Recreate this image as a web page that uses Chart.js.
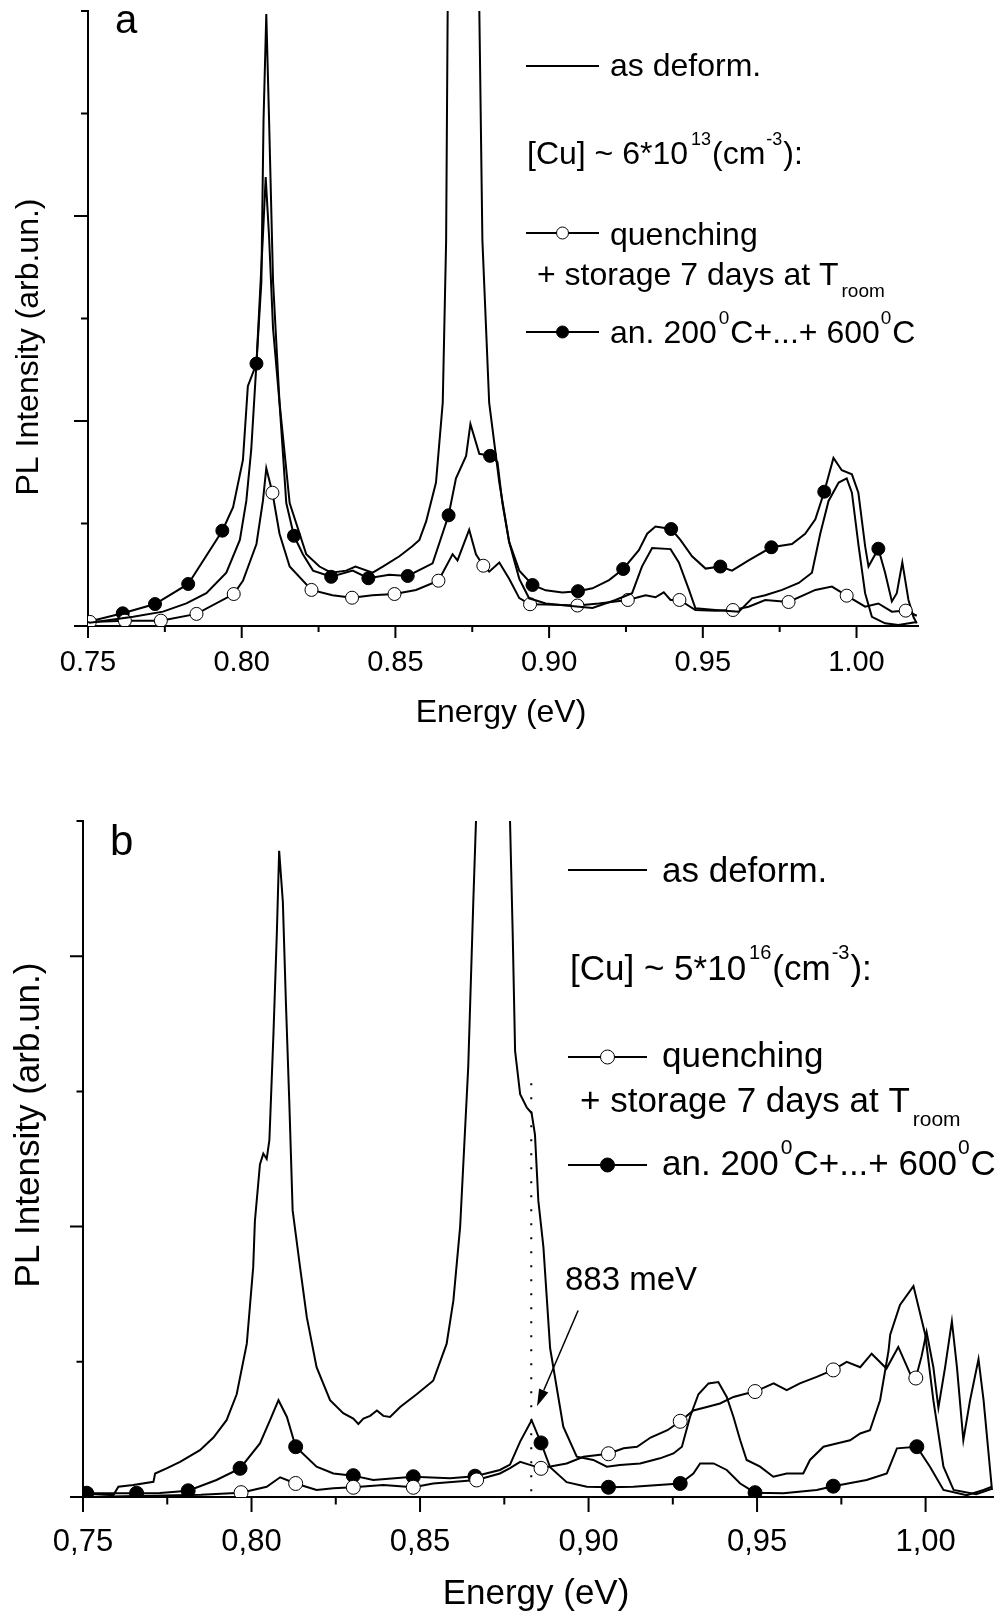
<!DOCTYPE html>
<html lang="en">
<head>
  <meta charset="UTF-8" />
  <title>PL spectra | Cu in Si</title>
  <script src="https://cdn.jsdelivr.net/npm/chart.js"></script>
  <style>
    body { margin: 0; background: #fff; }
    #wrap { position: relative; width: 1004px; height: 1615px; }
    canvas { position: absolute; left: 0; }
  </style>
</head>
<body>
  <div id="wrap">
    <canvas id="chartA" width="1004" height="760" style="top:0"></canvas>
    <canvas id="chartB" width="1004" height="855" style="top:760px"></canvas>
  </div>

  <script>
    const FONT = '"Liberation Sans", Arial, Helvetica, sans-serif';

    // axis ticks (energy in eV, intensity in arb. units)
    const xMajor = [0.75, 0.80, 0.85, 0.90, 0.95, 1.00];
    const xMinor = [0.775, 0.825, 0.875, 0.925, 0.975];
    const yMajor = [0, 1, 2];
    const aYMinor = [0.5, 1.5, 2.5, 3];
    const bYMinor = [0.5, 1.5, 2.5];

    // ---- panel a : [Cu] ~ 6*10^13 ----
    const aDeform = [[0.7500,0.02],[0.7506,0.016],[0.7647,0.045],[0.7744,0.07],[0.7820,0.11],[0.7885,0.16],[0.7950,0.26],[0.7994,0.42],[0.8015,0.61],[0.8031,0.86],[0.8064,1.68],[0.8071,2.47],[0.8080,2.985],[0.8089,2.47],[0.8102,1.68],[0.8123,1.09],[0.8156,0.60],[0.8210,0.35],[0.8253,0.29],[0.8291,0.26],[0.8340,0.27],[0.8370,0.29],[0.8426,0.26],[0.8459,0.29],[0.8513,0.34],[0.8556,0.39],[0.8578,0.42],[0.8600,0.51],[0.8632,0.70],[0.8654,1.09],[0.8665,1.88],[0.8670,3.0],[0.8690,5.0],[0.8721,6.0],[0.8750,5.0],[0.8773,3.0],[0.8783,1.88],[0.8805,1.09],[0.8838,0.70],[0.8870,0.41],[0.8903,0.23],[0.8935,0.135],[0.8989,0.11],[0.9054,0.10],[0.9141,0.088],[0.9216,0.127],[0.9270,0.16],[0.9302,0.29],[0.9335,0.38],[0.9395,0.375],[0.9422,0.31],[0.9455,0.176],[0.9476,0.086],[0.9541,0.078],[0.9617,0.07],[0.9660,0.135],[0.9703,0.15],[0.9758,0.176],[0.9812,0.21],[0.9855,0.26],[0.9882,0.45],[0.9909,0.61],[0.9942,0.70],[0.9968,0.72],[0.9985,0.65],[1.0006,0.40],[1.0028,0.16],[1.0050,0.045],[1.0093,0.013],[1.0136,0.005],[1.0196,0.02]];

    const aQuench = [[0.7500,0.015],[0.7506,0.02],[0.7620,0.026],[0.7737,0.026],[0.7853,0.059],[0.7974,0.156],[0.8004,0.22],[0.8048,0.40],[0.8069,0.61],[0.8080,0.77],[0.8100,0.65],[0.8123,0.45],[0.8156,0.29],[0.8227,0.176],[0.8295,0.15],[0.8359,0.138],[0.8425,0.15],[0.8497,0.156],[0.8567,0.176],[0.8640,0.221],[0.8686,0.35],[0.8702,0.32],[0.8740,0.47],[0.8762,0.35],[0.8786,0.294],[0.8805,0.265],[0.8838,0.31],[0.8870,0.23],[0.8903,0.136],[0.8938,0.106],[0.8989,0.105],[0.9092,0.10],[0.9162,0.11],[0.9256,0.127],[0.9314,0.15],[0.9346,0.14],[0.9373,0.164],[0.9395,0.127],[0.9424,0.127],[0.9476,0.078],[0.9541,0.075],[0.9598,0.078],[0.9649,0.094],[0.9703,0.127],[0.9779,0.117],[0.9866,0.176],[0.9920,0.192],[0.9968,0.148],[1.0028,0.094],[1.0071,0.11],[1.0115,0.07],[1.0160,0.075],[1.0196,0.05]];
    const aQuenchMarks = [0.7506,0.7620,0.7737,0.7853,0.7974,0.8100,0.8227,0.8359,0.8497,0.8640,0.8786,0.8938,0.9092,0.9256,0.9424,0.9598,0.9779,0.9968,1.0160];

    const aAnneal = [[0.7500,0.02],[0.7613,0.062],[0.7718,0.107],[0.7826,0.205],[0.7937,0.465],[0.7972,0.58],[0.8004,0.81],[0.8020,1.17],[0.8048,1.28],[0.8069,1.9],[0.8078,2.19],[0.8089,1.9],[0.8102,1.45],[0.8123,1.09],[0.8145,0.60],[0.8170,0.44],[0.8199,0.35],[0.8232,0.27],[0.8291,0.24],[0.8361,0.27],[0.8412,0.233],[0.8480,0.25],[0.8540,0.244],[0.8621,0.306],[0.8673,0.54],[0.8697,0.72],[0.8730,0.83],[0.8744,0.985],[0.8773,0.84],[0.8808,0.83],[0.8832,0.80],[0.8848,0.60],[0.8870,0.41],[0.8903,0.27],[0.8946,0.20],[0.8989,0.174],[0.9043,0.164],[0.9094,0.17],[0.9141,0.184],[0.9195,0.224],[0.9241,0.278],[0.9292,0.37],[0.9319,0.45],[0.9346,0.485],[0.9397,0.473],[0.9427,0.42],[0.9465,0.34],[0.9509,0.28],[0.9557,0.29],[0.9595,0.27],[0.9649,0.32],[0.9723,0.384],[0.9790,0.40],[0.9833,0.45],[0.9866,0.52],[0.9895,0.655],[0.9925,0.82],[0.9952,0.76],[0.9985,0.74],[1.0006,0.65],[1.0028,0.39],[1.0039,0.29],[1.0071,0.377],[1.0093,0.26],[1.0115,0.12],[1.0131,0.16],[1.0149,0.31],[1.0169,0.127],[1.0185,0.045],[1.0196,0.013]];
    const aAnnealMarks = [0.7613,0.7718,0.7826,0.7937,0.8048,0.8170,0.8291,0.8412,0.8540,0.8673,0.8808,0.8946,0.9094,0.9241,0.9397,0.9557,0.9723,0.9895,1.0071];

    // ---- panel b : [Cu] ~ 5*10^16 ----
    const bDeform = [[0.7501,0.014],[0.7590,0.007],[0.7605,0.038],[0.7649,0.044],[0.7709,0.056],[0.7714,0.087],[0.7748,0.106],[0.7788,0.13],[0.7847,0.173],[0.7887,0.22],[0.7926,0.284],[0.7956,0.38],[0.7986,0.567],[0.8005,0.85],[0.8010,1.02],[0.8025,1.23],[0.8035,1.27],[0.8045,1.25],[0.8053,1.32],[0.8065,1.71],[0.8075,2.08],[0.8082,2.39],[0.8093,2.20],[0.8102,1.83],[0.8112,1.465],[0.8122,1.06],[0.8144,0.85],[0.8164,0.665],[0.8193,0.48],[0.8233,0.358],[0.8272,0.31],[0.8302,0.29],[0.8317,0.27],[0.8332,0.29],[0.8352,0.30],[0.8372,0.32],[0.8391,0.30],[0.8411,0.296],[0.8441,0.333],[0.8490,0.38],[0.8539,0.43],[0.8579,0.567],[0.8599,0.727],[0.8619,1.0],[0.8643,1.59],[0.8658,2.20],[0.8666,2.5],[0.8690,3.6],[0.8717,4.2],[0.8745,3.6],[0.8767,2.5],[0.8775,2.08],[0.8782,1.65],[0.8797,1.49],[0.8817,1.44],[0.8831,1.42],[0.8841,1.34],[0.8851,1.096],[0.8866,0.925],[0.8886,0.55],[0.8925,0.26],[0.8965,0.149],[0.9014,0.137],[0.9054,0.112],[0.9093,0.118],[0.9153,0.124],[0.9212,0.143],[0.9252,0.161],[0.9277,0.186],[0.9301,0.296],[0.9326,0.38],[0.9356,0.42],[0.9385,0.425],[0.9410,0.37],[0.9430,0.296],[0.9450,0.21],[0.9469,0.137],[0.9509,0.112],[0.9548,0.075],[0.9588,0.087],[0.9637,0.087],[0.9657,0.137],[0.9697,0.186],[0.9736,0.198],[0.9776,0.21],[0.9806,0.235],[0.9835,0.247],[0.9865,0.358],[0.9890,0.54],[0.9895,0.60],[0.9924,0.71],[0.9964,0.78],[0.9999,0.60],[1.0023,0.358],[1.0053,0.112],[1.0083,0.026],[1.0150,0.01],[1.0197,0.03]];

    const bQuench = [[0.7501,0.0],[0.7700,0.005],[0.7850,0.008],[0.7969,0.016],[0.8045,0.038],[0.8085,0.073],[0.8131,0.05],[0.8193,0.026],[0.8243,0.032],[0.8302,0.036],[0.8391,0.044],[0.8480,0.036],[0.8539,0.05],[0.8668,0.063],[0.8737,0.087],[0.8767,0.107],[0.8797,0.13],[0.8859,0.106],[0.8935,0.124],[0.8985,0.149],[0.9059,0.16],[0.9104,0.18],[0.9144,0.186],[0.9184,0.22],[0.9234,0.247],[0.9272,0.28],[0.9311,0.32],[0.9351,0.333],[0.9390,0.346],[0.9430,0.37],[0.9460,0.38],[0.9494,0.39],[0.9549,0.42],[0.9588,0.395],[0.9627,0.42],[0.9677,0.444],[0.9726,0.47],[0.9766,0.50],[0.9806,0.48],[0.9840,0.53],[0.9884,0.475],[0.9919,0.555],[0.9954,0.456],[0.9971,0.44],[0.9988,0.52],[1.0003,0.61],[1.0023,0.48],[1.0038,0.33],[1.0058,0.48],[1.0078,0.65],[1.0093,0.48],[1.0112,0.21],[1.0132,0.358],[1.0157,0.51],[1.0172,0.358],[1.0197,0.026]];
    const bQuenchMarks = [0.7969,0.8131,0.8302,0.8480,0.8668,0.8859,0.9059,0.9272,0.9494,0.9726,0.9971];

    const bAnneal = [[0.7501,0.014],[0.7511,0.014],[0.7659,0.014],[0.7728,0.015],[0.7812,0.023],[0.7896,0.063],[0.7966,0.106],[0.8025,0.198],[0.8055,0.284],[0.8080,0.358],[0.8105,0.296],[0.8131,0.186],[0.8193,0.112],[0.8243,0.087],[0.8302,0.079],[0.8361,0.063],[0.8480,0.075],[0.8589,0.069],[0.8663,0.077],[0.8737,0.10],[0.8767,0.12],[0.8797,0.205],[0.8831,0.284],[0.8859,0.20],[0.8886,0.11],[0.8935,0.055],[0.8995,0.038],[0.9059,0.036],[0.9133,0.038],[0.9272,0.05],[0.9311,0.087],[0.9331,0.124],[0.9371,0.124],[0.9410,0.10],[0.9450,0.05],[0.9494,0.016],[0.9578,0.014],[0.9677,0.026],[0.9726,0.04],[0.9825,0.063],[0.9885,0.087],[0.9915,0.18],[0.9974,0.186],[1.0013,0.112],[1.0053,0.026],[1.0122,0.007],[1.0172,0.026],[1.0197,0.038]];
    const bAnnealMarks = [0.7511,0.7659,0.7812,0.7966,0.8131,0.8302,0.8480,0.8663,0.8859,0.9059,0.9272,0.9494,0.9726,0.9974];

    // 883 meV annotation (eV, intensity)
    const markLineE = 0.883;
    const markLineTop = 1.53;
    const arrowFrom = [0.8969, 0.69];
    const arrowTo = [0.8847, 0.336];
    const noteAt = [0.8930, 0.764];

    function lineSet(pairs, marks, fill, r) {
      return {
        data: pairs.map(p => ({ x: p[0], y: p[1] })),
        borderColor: '#000',
        borderWidth: 2,
        tension: 0,
        pointRadius: c => (c.raw && marks.includes(c.raw.x)) ? r : 0,
        pointHoverRadius: 0,
        pointBackgroundColor: fill,
        pointBorderColor: '#000',
        pointBorderWidth: 1
      };
    }

    // draws text pieces one after another (for super/subscripts)
    function runs(ctx, x, y, parts) {
      parts.forEach(([t, size, dy, dx]) => {
        ctx.font = size + 'px ' + FONT;
        x += dx || 0;
        ctx.fillText(t, x, y + (dy || 0));
        x += ctx.measureText(t).width;
      });
    }

    function legendItem(ctx, x0, x1, yy, fill, r) {
      ctx.lineWidth = 2;
      ctx.beginPath(); ctx.moveTo(x0, yy); ctx.lineTo(x1, yy); ctx.stroke();
      if (r) {
        ctx.beginPath();
        ctx.arc((x0 + x1) / 2, yy, r, 0, Math.PI * 2);
        ctx.fillStyle = fill; ctx.fill();
        ctx.lineWidth = 1; ctx.stroke();
        ctx.fillStyle = '#000';
      }
    }

    function decor(cfg) {
      return {
        id: 'decor',
        afterDraw(chart) {
          const { ctx, chartArea: ca, scales: { x, y } } = chart;
          ctx.save();
          ctx.strokeStyle = '#000';
          ctx.fillStyle = '#000';
          ctx.lineWidth = 2;
          ctx.beginPath();
          xMajor.forEach(v => { const p = x.getPixelForValue(v); ctx.moveTo(p, ca.bottom); ctx.lineTo(p, ca.bottom + cfg.xTick); });
          xMinor.forEach(v => { const p = x.getPixelForValue(v); ctx.moveTo(p, ca.bottom); ctx.lineTo(p, ca.bottom + cfg.xTick / 2); });
          yMajor.forEach(v => { const p = y.getPixelForValue(v); ctx.moveTo(ca.left - cfg.yTick, p); ctx.lineTo(ca.left, p); });
          cfg.yMinor.forEach(v => { const p = y.getPixelForValue(v); ctx.moveTo(ca.left - cfg.yTick / 2, p); ctx.lineTo(ca.left, p); });
          ctx.stroke();

          // axis titles
          ctx.textBaseline = 'middle';
          ctx.textAlign = 'center';
          ctx.font = cfg.titleSize + 'px ' + FONT;
          ctx.fillText('Energy (eV)', cfg.xTitle[0], cfg.xTitle[1]);
          ctx.save();
          ctx.translate(cfg.yTitle[0], cfg.yTitle[1]);
          ctx.rotate(-Math.PI / 2);
          ctx.fillText('PL Intensity (arb.un.)', 0, 0);
          ctx.restore();

          ctx.textAlign = 'left';
          ctx.textBaseline = 'alphabetic';
          cfg.extra(ctx, x, y);
          ctx.restore();
        }
      };
    }

    function makeChart(id, cfg) {
      return new Chart(document.getElementById(id), {
        type: 'line',
        data: {
          datasets: [
            lineSet(cfg.deform, [], '#000', 0),
            lineSet(cfg.quench, cfg.quenchMarks, '#fff', cfg.r),
            lineSet(cfg.anneal, cfg.annealMarks, '#000', cfg.r)
          ]
        },
        options: {
          responsive: false,
          animation: false,
          devicePixelRatio: 1,
          events: [],
          layout: { padding: cfg.pad },
          plugins: { legend: { display: false }, tooltip: { enabled: false } },
          scales: {
            x: {
              type: 'linear', min: 0.75, max: 1.02,
              afterFit: s => { s.height = cfg.xH; },
              afterBuildTicks: s => { s.ticks = xMajor.map(v => ({ value: v })); },
              grid: { display: false },
              border: { display: true, color: '#000', width: 2 },
              ticks: {
                color: '#000', font: { family: FONT, size: cfg.tickSize },
                padding: cfg.tickPad, maxRotation: 0, autoSkip: false,
                callback: v => cfg.fmt(v)
              }
            },
            y: {
              type: 'linear', min: 0, max: cfg.yMax,
              afterFit: s => { s.width = cfg.yW; },
              grid: { display: false },
              border: { display: true, color: '#000', width: 2 },
              ticks: { display: false }
            }
          }
        },
        plugins: [decor(cfg)]
      });
    }

    // panel a
    makeChart('chartA', {
      deform: aDeform, quench: aQuench, quenchMarks: aQuenchMarks,
      anneal: aAnneal, annealMarks: aAnnealMarks,
      r: 6.5, yMax: 3, yMinor: aYMinor,
      pad: { top: 11, right: 86, left: 0, bottom: 0 }, yW: 88, xH: 134,
      xTick: 12, yTick: 14, tickSize: 29, tickPad: 12,
      fmt: v => v.toFixed(2),
      titleSize: 32, xTitle: [501, 713], yTitle: [29, 347],
      extra(ctx) {
        ctx.font = '40px ' + FONT;
        ctx.fillText('a', 115, 33);
        legendItem(ctx, 526, 599, 66, '#000', 0);
        runs(ctx, 610, 76, [['as deform.', 32]]);
        runs(ctx, 527, 164, [['[Cu] ~ 6*10', 32], ['13', 18, -19, 3], ['(cm', 32, 0, 1], ['-3', 18, -19, 1], ['):', 32, 0, 1]]);
        legendItem(ctx, 526, 599, 233, '#fff', 6);
        runs(ctx, 610, 245, [['quenching', 32]]);
        runs(ctx, 537, 285, [['+ storage 7 days at T', 32], ['room', 19, 12, 3]]);
        legendItem(ctx, 526, 599, 332, '#000', 6);
        runs(ctx, 610, 343, [['an. 200', 32], ['0', 19, -19, 2], ['C+...+ 600', 32, 0, 1], ['0', 19, -19, 1], ['C', 32, 0, 1]]);
      }
    });

    // panel b
    makeChart('chartB', {
      deform: bDeform, quench: bQuench, quenchMarks: bQuenchMarks,
      anneal: bAnneal, annealMarks: bAnnealMarks,
      r: 7, yMax: 2.5, yMinor: bYMinor,
      pad: { top: 61, right: 11, left: 0, bottom: 0 }, yW: 83, xH: 118,
      xTick: 15, yTick: 13, tickSize: 31, tickPad: 19,
      fmt: v => v.toFixed(2).replace('.', ','),
      titleSize: 35, xTitle: [536, 834], yTitle: [29, 365],
      extra(ctx, x, y) {
        ctx.font = '42px ' + FONT;
        ctx.fillText('b', 110, 95);
        legendItem(ctx, 568, 647, 110, '#000', 0);
        runs(ctx, 662, 122, [['as deform.', 35]]);
        runs(ctx, 570, 220, [['[Cu] ~ 5*10', 35], ['16', 20, -21, 3], ['(cm', 35, 0, 1], ['-3', 20, -21, 1], ['):', 35, 0, 1]]);
        legendItem(ctx, 568, 647, 297, '#fff', 7);
        runs(ctx, 662, 307, [['quenching', 35]]);
        runs(ctx, 580, 352, [['+ storage 7 days at T', 35], ['room', 21, 14, 3]]);
        legendItem(ctx, 568, 647, 405, '#000', 7);
        runs(ctx, 662, 415, [['an. 200', 35], ['0', 21, -21, 2], ['C+...+ 600', 35, 0, 1], ['0', 21, -21, 1], ['C', 35, 0, 1]]);

        // dotted marker at 883 meV
        const px = x.getPixelForValue(markLineE);
        ctx.save();
        ctx.setLineDash([2, 12]);
        ctx.lineWidth = 2;
        ctx.beginPath();
        ctx.moveTo(px, y.getPixelForValue(markLineTop));
        ctx.lineTo(px, y.getPixelForValue(0));
        ctx.stroke();
        ctx.restore();

        // arrow + note
        const sx = x.getPixelForValue(arrowFrom[0]), sy = y.getPixelForValue(arrowFrom[1]);
        const tx = x.getPixelForValue(arrowTo[0]), ty = y.getPixelForValue(arrowTo[1]);
        const ang = Math.atan2(ty - sy, tx - sx);
        const hl = 17, hw = 5;
        const bx = tx - hl * Math.cos(ang), by = ty - hl * Math.sin(ang);
        ctx.lineWidth = 1.5;
        ctx.beginPath(); ctx.moveTo(sx, sy); ctx.lineTo(bx, by); ctx.stroke();
        ctx.beginPath();
        ctx.moveTo(tx, ty);
        ctx.lineTo(bx + hw * Math.sin(ang), by - hw * Math.cos(ang));
        ctx.lineTo(bx - hw * Math.sin(ang), by + hw * Math.cos(ang));
        ctx.closePath();
        ctx.fill();
        runs(ctx, x.getPixelForValue(noteAt[0]), y.getPixelForValue(noteAt[1]), [['883 meV', 33]]);
      }
    });
  </script>
</body>
</html>
